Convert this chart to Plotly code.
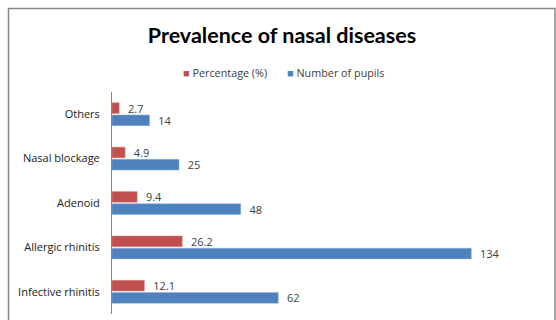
import plotly.graph_objects as go

categories = ["Others", "Nasal blockage", "Adenoid", "Allergic rhinitis", "Infective rhinitis"]
percentage = [2.7, 4.9, 9.4, 26.2, 12.1]
pupils = [14, 25, 48, 134, 62]
pct_labels = ["2.7", "4.9", "9.4", "26.2", "12.1"]
pupil_labels = ["14", "25", "48", "134", "62"]
series_names = ["Percentage (%)", "Number of pupils"]
series_colors = ["#C0504D", "#4F81BD"]

W, H = 556, 320
L, R, T, B = 112, 15, 92, 6
pw, ph = W - L - R, H - T - B

def px_x(x):
    return (x - L) / pw

def px_y(y):
    return (H - B - y) / ph

fig = go.Figure()
for vals, labels, name, color, edge in [
    (percentage, pct_labels, series_names[0], series_colors[0], "#D99694"),
    (pupils, pupil_labels, series_names[1], series_colors[1], "#95B3D7"),
]:
    fig.add_trace(go.Bar(
        y=categories, x=vals, orientation="h", name=name,
        marker=dict(color=color, line=dict(color=edge, width=0.5)),
        text=labels, texttemplate="\u00a0\u00a0%{text}", textposition="outside",
        constraintext="none", cliponaxis=False,
        textfont=dict(family="Open Sans", size=11, color="#404040"),
        showlegend=False,
    ))

legend_ann = []
for name, color, xpos in [(series_names[0], series_colors[0], 181),
                          (series_names[1], series_colors[1], 285)]:
    legend_ann.append(dict(
        xref="paper", yref="paper", x=px_x(xpos), y=px_y(72),
        xanchor="left", yanchor="middle", showarrow=False,
        text=f'<span style="color:{color}; font-size:11px">■</span> {name}',
        font=dict(family="Open Sans", size=10.8, color="#404040"),
    ))

fig.update_layout(
    width=W, height=H,
    margin=dict(l=L, r=R, t=T, b=B),
    paper_bgcolor="white", plot_bgcolor="white",
    barmode="group", bargap=0.45, bargroupgap=0.12,
    title=dict(text="<b>Prevalence of nasal diseases</b>", x=282 / W, xanchor="center",
               y=1 - 35 / H, yanchor="middle",
               font=dict(family="Lato", size=21.5, color="#000000")),
    xaxis=dict(range=[0, 160], showgrid=False, showticklabels=False, zeroline=False,
               showline=False, ticks=""),
    yaxis=dict(autorange="reversed", showgrid=False, showline=True, linecolor="#868686",
               linewidth=1, ticks="", ticklabelstandoff=9,
               tickfont=dict(family="Open Sans", size=11, color="#1a1a1a")),
    showlegend=False,
    annotations=legend_ann,
    shapes=[dict(type="rect", xref="paper", yref="paper",
                 x0=px_x(8.5), x1=px_x(555), y0=px_y(335), y1=px_y(8.5),
                 line=dict(color="#868686", width=1.5), fillcolor="rgba(0,0,0,0)", layer="below")],
)

fig.write_html("out.html")
